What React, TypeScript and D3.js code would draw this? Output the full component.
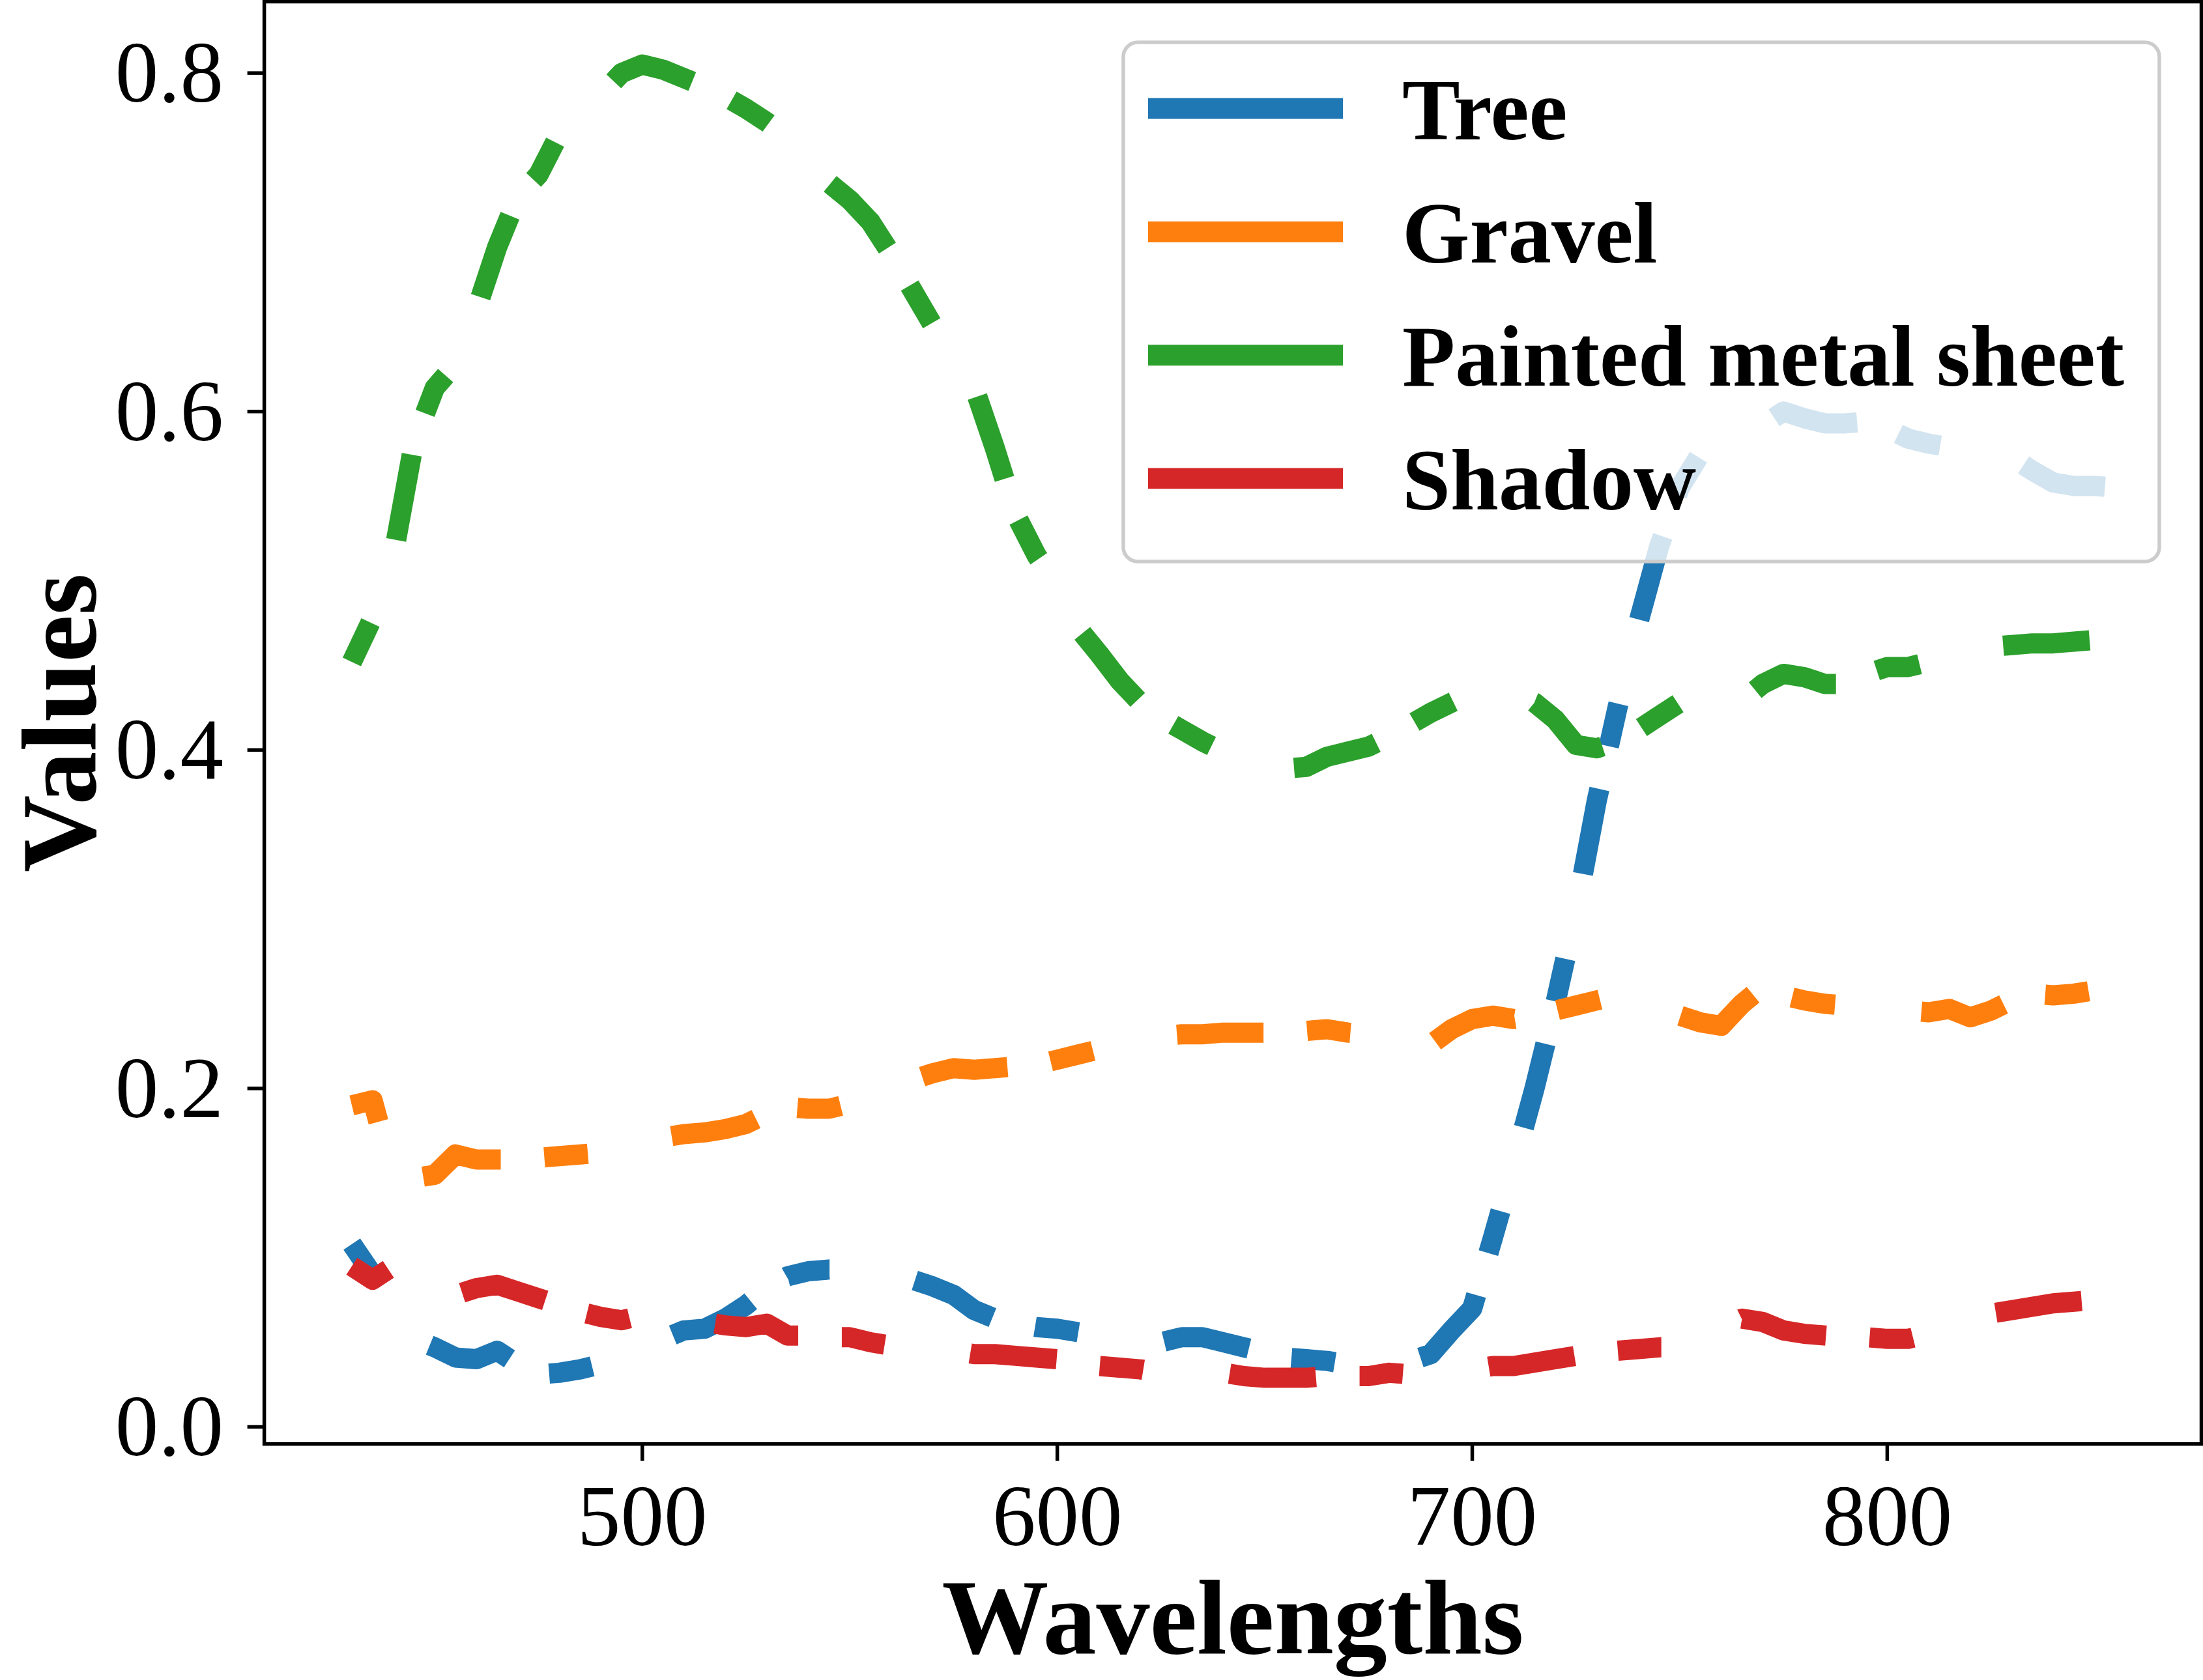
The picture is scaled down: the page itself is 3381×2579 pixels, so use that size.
import { useEffect, useRef } from 'react'
import * as d3 from 'd3'

const wavelengths = [
  430, 435, 440, 445, 450, 455, 460, 465, 470, 475, 480, 485, 490, 495, 500, 505, 510, 515, 520, 525,
  530, 535, 540, 545, 550, 555, 560, 565, 570, 575, 580, 585, 590, 595, 600, 605, 610, 615, 620, 625,
  630, 635, 640, 645, 650, 655, 660, 665, 670, 675, 680, 685, 690, 695, 700, 705, 710, 715, 720, 725,
  730, 735, 740, 745, 750, 755, 760, 765, 770, 775, 780, 785, 790, 795, 800, 805, 810, 815, 820, 825,
  830, 835, 840, 845, 850, 855,
]

const tree = [
  0.108, 0.090, 0.070, 0.052, 0.047, 0.041, 0.040, 0.045, 0.037, 0.031, 0.032, 0.034, 0.037, 0.042, 0.047, 0.052, 0.057, 0.058, 0.064, 0.072,
  0.082, 0.089, 0.092, 0.093, 0.093, 0.092, 0.091, 0.087, 0.083, 0.078, 0.069, 0.064, 0.061, 0.059, 0.058, 0.056, 0.054, 0.052, 0.050, 0.050,
  0.053, 0.053, 0.050, 0.047, 0.044, 0.041, 0.040, 0.039, 0.037, 0.036, 0.037, 0.039, 0.043, 0.057, 0.070, 0.112, 0.155, 0.200, 0.250, 0.305,
  0.370, 0.425, 0.475, 0.520, 0.555, 0.575, 0.583, 0.586, 0.592, 0.600, 0.596, 0.593, 0.593, 0.594, 0.590, 0.584, 0.581, 0.579, 0.577, 0.576,
  0.573, 0.565, 0.558, 0.556, 0.556, 0.555,
]

const gravel = [
  0.190, 0.193, 0.148, 0.147, 0.149, 0.161, 0.158, 0.158, 0.158, 0.159, 0.160, 0.161, 0.162, 0.163, 0.165, 0.171, 0.173, 0.174, 0.176, 0.179,
  0.185, 0.189, 0.188, 0.188, 0.191, 0.195, 0.200, 0.205, 0.209, 0.212, 0.211, 0.212, 0.213, 0.214, 0.217, 0.220, 0.223, 0.229, 0.230, 0.231,
  0.232, 0.232, 0.233, 0.233, 0.233, 0.234, 0.234, 0.235, 0.233, 0.232, 0.230, 0.227, 0.226, 0.235, 0.241, 0.243, 0.241, 0.243, 0.246, 0.249,
  0.252, 0.255, 0.256, 0.250, 0.243, 0.239, 0.237, 0.250, 0.260, 0.255, 0.252, 0.250, 0.249, 0.248, 0.247, 0.246, 0.245, 0.247, 0.242, 0.246,
  0.252, 0.256, 0.255, 0.256, 0.258, 0.253,
]

const paintedMetal = [
  0.452, 0.478, 0.515, 0.582, 0.614, 0.628, 0.660, 0.697, 0.727, 0.740, 0.764, 0.781, 0.787, 0.800, 0.805, 0.802, 0.797, 0.792, 0.786, 0.779,
  0.771, 0.762, 0.748, 0.735, 0.725, 0.712, 0.693, 0.672, 0.651, 0.633, 0.614, 0.578, 0.539, 0.515, 0.497, 0.472, 0.457, 0.441, 0.428, 0.419,
  0.412, 0.405, 0.399, 0.394, 0.390, 0.389, 0.390, 0.396, 0.399, 0.402, 0.408, 0.415, 0.422, 0.428, 0.434, 0.437, 0.433, 0.428, 0.418, 0.403,
  0.401, 0.405, 0.412, 0.420, 0.428, 0.432, 0.425, 0.429, 0.439, 0.445, 0.443, 0.439, 0.439, 0.445, 0.449, 0.449, 0.452, 0.458, 0.460, 0.461,
  0.462, 0.463, 0.463, 0.464, 0.465, 0.465,
]

const shadow = [
  0.095, 0.087, 0.095, 0.083, 0.076, 0.078, 0.082, 0.084, 0.080, 0.076, 0.072, 0.068, 0.065, 0.063, 0.066, 0.064, 0.062, 0.062, 0.060, 0.059,
  0.061, 0.054, 0.054, 0.053, 0.053, 0.050, 0.048, 0.049, 0.046, 0.045, 0.043, 0.043, 0.042, 0.041, 0.040, 0.038, 0.036, 0.035, 0.034, 0.032,
  0.032, 0.032, 0.032, 0.030, 0.029, 0.029, 0.029, 0.030, 0.030, 0.030, 0.032, 0.031, 0.031, 0.031, 0.034, 0.036, 0.036, 0.038, 0.040, 0.042,
  0.044, 0.045, 0.046, 0.047, 0.047, 0.052, 0.058, 0.064, 0.062, 0.057, 0.055, 0.054, 0.053, 0.053, 0.052, 0.052, 0.055, 0.058, 0.063, 0.067,
  0.069, 0.071, 0.073, 0.074, 0.075, 0.076,
]

const seriesNames = ['Tree', 'Gravel', 'Painted metal sheet', 'Shadow']
const seriesValues = [tree, gravel, paintedMetal, shadow]
const seriesColors = ['#1f77b4', '#ff7f0e', '#2ca02c', '#d62728']

const xTicks = [500, 600, 700, 800]
const yTicks = [0.0, 0.2, 0.4, 0.6, 0.8]

const xDomain = [408.9, 875.7]
const yDomain = [-0.0101, 0.8422]

const width = 3381
const height = 2579
const plot = { left: 405.6, right: 3378.5, top: 2.5, bottom: 2216.7 }
const font = '"Liberation Serif", "Times New Roman", serif'

const App = () => {
  const svgRef = useRef<SVGSVGElement>(null)

  useEffect(() => {
    if (!svgRef.current) return
    const svg = d3.select(svgRef.current)
    svg.selectAll('*').remove()

    const x = d3.scaleLinear().domain(xDomain).range([plot.left, plot.right])
    const y = d3.scaleLinear().domain(yDomain).range([plot.bottom, plot.top])

    svg.append('rect')
      .attr('width', width)
      .attr('height', height)
      .attr('fill', 'white')

    // clip lines to the axes box
    svg.append('clipPath')
      .attr('id', 'plot-clip')
      .append('rect')
      .attr('x', plot.left)
      .attr('y', plot.top)
      .attr('width', plot.right - plot.left)
      .attr('height', plot.bottom - plot.top)

    // data lines, dash-dot style
    const line = d3.line<number>()
      .x((_, i) => x(wavelengths[i]))
      .y((d) => y(d))

    const lines = svg.append('g')
      .attr('clip-path', 'url(#plot-clip)')

    seriesValues.forEach((vals, i) => {
      lines.append('path')
        .datum(vals)
        .attr('fill', 'none')
        .attr('stroke', seriesColors[i])
        .attr('stroke-width', 31)
        .attr('stroke-linejoin', 'round')
        .attr('stroke-linecap', 'butt')
        .attr('stroke-dasharray', '67 133 133 67')
        .attr('d', line)
    })

    // frame
    svg.append('rect')
      .attr('x', plot.left)
      .attr('y', plot.top)
      .attr('width', plot.right - plot.left)
      .attr('height', plot.bottom - plot.top)
      .attr('fill', 'none')
      .attr('stroke', 'black')
      .attr('stroke-width', 5.5)

    // y axis
    const yAxis = svg.append('g')
    yTicks.forEach((t) => {
      yAxis.append('line')
        .attr('x1', plot.left - 26)
        .attr('x2', plot.left)
        .attr('y1', y(t))
        .attr('y2', y(t))
        .attr('stroke', 'black')
        .attr('stroke-width', 5.5)
      yAxis.append('text')
        .attr('x', 343)
        .attr('y', y(t) + 44)
        .attr('text-anchor', 'end')
        .attr('font-family', font)
        .attr('font-size', 133)
        .text(d3.format('.1f')(t))
    })

    // x axis
    const xAxis = svg.append('g')
    xTicks.forEach((t) => {
      xAxis.append('line')
        .attr('x1', x(t))
        .attr('x2', x(t))
        .attr('y1', plot.bottom)
        .attr('y2', plot.bottom + 26)
        .attr('stroke', 'black')
        .attr('stroke-width', 5.5)
      xAxis.append('text')
        .attr('x', x(t))
        .attr('y', 2372)
        .attr('text-anchor', 'middle')
        .attr('font-family', font)
        .attr('font-size', 133)
        .text(String(t))
    })

    // axis labels
    svg.append('text')
      .attr('x', (plot.left + plot.right) / 2)
      .attr('y', 2538)
      .attr('text-anchor', 'middle')
      .attr('font-family', font)
      .attr('font-weight', 'bold')
      .attr('font-size', 164)
      .text('Wavelengths')

    svg.append('text')
      .attr('transform', `translate(146, ${(plot.top + plot.bottom) / 2}) rotate(-90)`)
      .attr('text-anchor', 'middle')
      .attr('font-family', font)
      .attr('font-weight', 'bold')
      .attr('font-size', 164)
      .text('Values')

    // legend
    const legend = svg.append('g')
    legend.append('rect')
      .attr('x', 1724)
      .attr('y', 65)
      .attr('width', 1590)
      .attr('height', 797)
      .attr('rx', 22)
      .attr('fill', 'white')
      .attr('fill-opacity', 0.8)
      .attr('stroke', '#cccccc')
      .attr('stroke-width', 5.5)

    seriesNames.forEach((name, i) => {
      const cy = 166.6 + i * 189.3
      legend.append('line')
        .attr('x1', 1762)
        .attr('x2', 2061)
        .attr('y1', cy)
        .attr('y2', cy)
        .attr('stroke', seriesColors[i])
        .attr('stroke-width', 32)
      legend.append('text')
        .attr('x', 2152)
        .attr('y', cy + 47)
        .attr('font-family', font)
        .attr('font-weight', 'bold')
        .attr('font-size', 133)
        .text(name)
    })
  }, [])

  return (
    <svg
      ref={svgRef}
      width={width}
      height={height}
      style={{ position: 'absolute', left: 0, top: 0, display: 'block' }}
    />
  )
}

export default App
